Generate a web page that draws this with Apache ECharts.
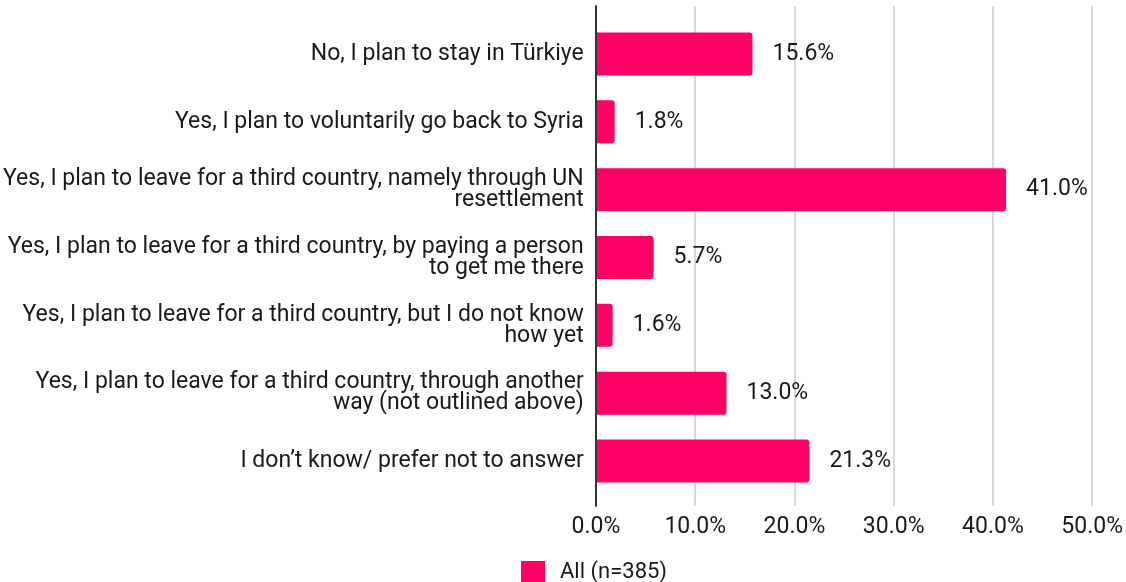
<!DOCTYPE html>
<html>
<head>
<meta charset="utf-8">
<script src="https://cdn.jsdelivr.net/npm/echarts@6/dist/echarts.min.js"></script>
<style>
  html, body { margin: 0; padding: 0; background: #fff; }
  #chart { width: 1126px; height: 582px; }
</style>
</head>
<body>
<div id="chart"></div>
<script>
// Survey answers, top to bottom
const categories = [
  'No, I plan to stay in Türkiye',
  'Yes, I plan to voluntarily go back to Syria',
  'Yes, I plan to leave for a third country, namely through UN\nresettlement',
  'Yes, I plan to leave for a third country, by paying a person\nto get me there',
  'Yes, I plan to leave for a third country, but I do not know\nhow yet',
  'Yes, I plan to leave for a third country, through another\nway (not outlined above)',
  'I don\u2019t know/ prefer not to answer'
];
// Share of respondents (%)
const values = [15.6, 1.8, 41.0, 5.7, 1.6, 13.0, 21.3];
const seriesName = 'All (n=385)';
const axisMax = 50;
const axisStep = 10;

const FONT = 'Roboto, "Noto Sans", sans-serif';
const TEXT = '#1a1a1a';
const PINK = '#ff0066';
const FS = 23;

const chart = echarts.init(document.getElementById('chart'), null, { renderer: 'canvas' });

chart.setOption({
  animation: false,
  backgroundColor: '#fff',
  textStyle: { fontFamily: FONT, color: TEXT },
  grid: [
    // frame: gridlines, tick labels and the vertical baseline
    { left: 596, right: 30, top: 6, height: 500, containLabel: false },
    // bars and category labels
    { left: 596, right: 30, top: 20, height: 475, containLabel: false }
  ],
  legend: {
    data: [seriesName],
    left: 516,
    top: 556,
    itemWidth: 24,
    itemHeight: 22,
    itemGap: 10,
    icon: 'rect',
    textStyle: { fontFamily: FONT, fontSize: 22, color: TEXT, padding: [0, 0, 0, 10] }
  },
  xAxis: [
    {
      gridIndex: 0,
      type: 'value',
      min: 0,
      max: axisMax,
      interval: axisStep,
      axisLine: { show: false },
      axisTick: { show: false },
      splitLine: { show: true, lineStyle: { color: '#cccccc', width: 1.5 } },
      axisLabel: {
        margin: 10,
        fontFamily: FONT,
        fontSize: FS,
        color: TEXT,
        formatter: v => v.toFixed(1) + '%'
      }
    },
    {
      gridIndex: 1,
      type: 'value',
      min: 0,
      max: axisMax,
      interval: axisStep,
      show: false
    }
  ],
  yAxis: [
    {
      gridIndex: 0,
      type: 'value',
      min: 0,
      max: 1,
      axisLine: { show: true, onZero: false, lineStyle: { color: '#333333', width: 2 } },
      axisTick: { show: false },
      axisLabel: { show: false },
      splitLine: { show: false },
      z: 10
    },
    {
      gridIndex: 1,
      type: 'category',
      data: categories,
      inverse: true,
      axisLine: { show: false },
      axisTick: { show: false },
      splitLine: { show: false },
      axisLabel: {
        margin: 13,
        fontFamily: FONT,
        fontSize: FS,
        lineHeight: 21,
        color: TEXT,
        align: 'right'
      }
    }
  ],
  series: [
    {
      name: seriesName,
      type: 'bar',
      xAxisIndex: 1,
      yAxisIndex: 1,
      data: values,
      barWidth: 43,
      itemStyle: { color: PINK, borderRadius: [0, 3, 3, 0] },
      label: {
        show: true,
        position: 'right',
        distance: 20,
        fontFamily: FONT,
        fontSize: FS,
        color: TEXT,
        formatter: p => p.value.toFixed(1) + '%'
      },
      z: 5
    }
  ]
});
</script>
</body>
</html>
